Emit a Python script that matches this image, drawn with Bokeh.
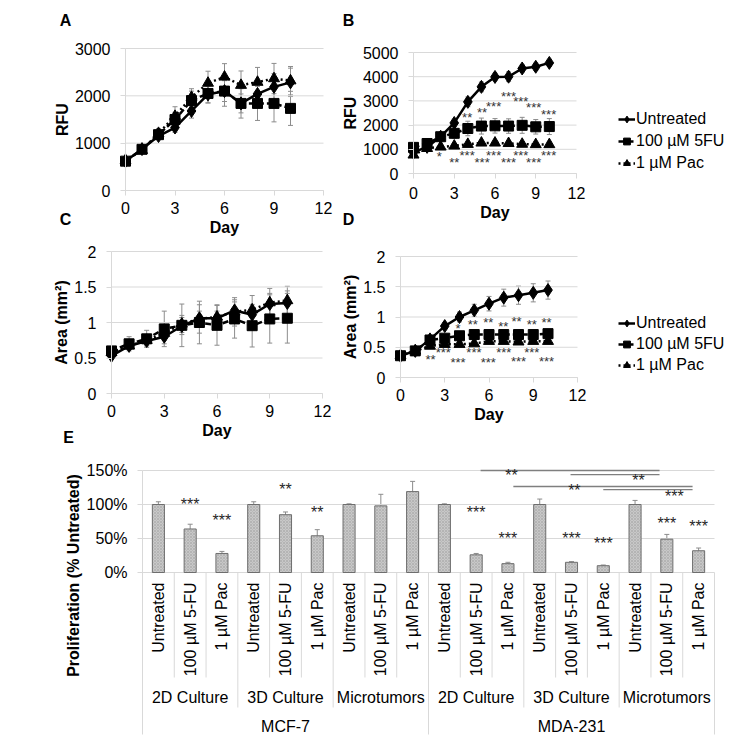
import math
from bokeh.plotting import figure
from bokeh.models import (ColumnDataSource, Whisker, TeeHead, Legend, LegendItem, Label,
                          FixedTicker, NumeralTickFormatter, PrintfTickFormatter,
                          LinearAxis, Range1d)
from bokeh.layouts import column, row
from bokeh.embed import file_html
from bokeh.resources import INLINE
from bokeh.core.properties import value

FONT = "Liberation Sans"
GRID = "#d9d9d9"
ERR = "#8c8c8c"
STAR = "#333333"

# ---------------- data ----------------
days = [0, 1, 2, 3, 4, 5, 6, 7, 8, 9, 10]
day_ticks = [0, 3, 6, 9, 12]
series = ["Untreated", "100 µM 5FU", "1 µM Pac"]

# A: MCF-7, RFU
a_untreated = [620, 875, 1150, 1330, 1680, 2030, 2100, 1840, 2040, 2190, 2285]
a_5fu = [620, 870, 1180, 1500, 1900, 2050, 2100, 1840, 1840, 1840, 1735]
a_pac = [640, 850, 1210, 1570, 1970, 2270, 2400, 2225, 2290, 2365, 2320]
a_untreated_err = [30, 50, 70, 100, 150, 180, 220, 200, 250, 280, 300]
a_5fu_err = [30, 60, 90, 150, 200, 200, 320, 310, 360, 390, 360]
a_pac_err = [30, 60, 100, 200, 180, 250, 280, 300, 310, 320, 300]
a_ticks = [0, 1000, 2000, 3000]

# B: MDA-231, RFU
b_untreated = [870, 1100, 1520, 2090, 2960, 3580, 3990, 4000, 4340, 4410, 4570]
b_5fu = [1080, 1240, 1520, 1660, 1860, 1960, 1970, 1960, 1990, 1930, 1940]
b_pac = [770, 1040, 1100, 1140, 1210, 1265, 1265, 1245, 1215, 1200, 1200]
b_untreated_err = [80, 100, 100, 150, 200, 200, 150, 200, 150, 150, 150]
b_5fu_err = [100, 100, 100, 200, 300, 330, 300, 300, 330, 300, 330]
b_pac_err = [100, 80, 80, 80, 100, 100, 100, 100, 100, 100, 100]
b_ticks = [0, 1000, 2000, 3000, 4000, 5000]
b_star_top_day = [3.95, 5.05, 5.9, 7.0, 7.9, 8.85, 9.95]
b_star_top_y = [2314, 2520, 2782, 3168, 2989, 2713, 2438]
b_star_top_txt = ["**", "**", "***", "***", "***", "***", "***"]
b_star_bot_day = [1.9, 3.0, 3.95, 5.05, 5.9, 7.0, 7.9, 8.85, 9.95]
b_star_bot_y = [689, 455, 730, 455, 730, 455, 730, 455, 730]
b_star_bot_txt = ["*", "**", "***", "***", "***", "***", "***", "***", "***"]

# C: MCF-7, area
c_untreated = [0.53, 0.67, 0.74, 0.80, 0.95, 1.06, 1.06, 1.17, 1.11, 1.26, 1.275]
c_5fu = [0.60, 0.70, 0.77, 0.91, 0.96, 1.00, 0.96, 1.05, 0.955, 1.05, 1.06]
c_pac = [0.58, 0.67, 0.75, 0.85, 0.98, 1.05, 1.08, 1.15, 1.18, 1.28, 1.31]
c_untreated_err = [0.03, 0.05, 0.06, 0.10, 0.12, 0.10, 0.10, 0.12, 0.12, 0.15, 0.17]
c_5fu_err = [0.05, 0.10, 0.12, 0.25, 0.30, 0.30, 0.28, 0.27, 0.30, 0.34, 0.35]
c_pac_err = [0.03, 0.05, 0.08, 0.10, 0.12, 0.20, 0.17, 0.20, 0.20, 0.20, 0.20]
area_ticks = [0, 0.5, 1, 1.5, 2]

# D: MDA-231, area
d_untreated = [0.36, 0.44, 0.63, 0.85, 1.00, 1.11, 1.22, 1.32, 1.36, 1.40, 1.445]
d_5fu = [0.36, 0.44, 0.62, 0.65, 0.69, 0.71, 0.71, 0.71, 0.71, 0.71, 0.725]
d_pac = [0.36, 0.44, 0.52, 0.55, 0.55, 0.56, 0.60, 0.60, 0.59, 0.60, 0.60]
d_untreated_err = [0.02, 0.03, 0.05, 0.06, 0.08, 0.10, 0.12, 0.14, 0.15, 0.15, 0.15]
d_5fu_err = [0.02, 0.03, 0.05, 0.05, 0.05, 0.05, 0.05, 0.05, 0.05, 0.05, 0.05]
d_pac_err = [0.02, 0.03, 0.04, 0.04, 0.04, 0.04, 0.04, 0.04, 0.04, 0.04, 0.04]
d_star_top_day = [3.9, 4.9, 5.95, 6.97, 7.87, 8.9, 9.9]
d_star_top_y = [0.81, 0.88, 0.91, 0.85, 0.93, 0.88, 0.91]
d_star_top_txt = ["*", "**", "**", "**", "**", "**", "**"]
d_star_bot_day = [2.04, 2.9, 3.9, 4.98, 5.95, 7.0, 8.0, 8.9, 9.9]
d_star_bot_y = [0.30, 0.41, 0.25, 0.41, 0.25, 0.41, 0.26, 0.41, 0.26]
d_star_bot_txt = ["**", "***", "***", "***", "***", "***", "***", "***", "***"]

# E: proliferation bars
cell_lines = ["MCF-7", "MDA-231"]
cultures = ["2D Culture", "3D Culture", "Microtumors"]
treatments = ["Untreated", "100 µM 5-FU", "1 µM Pac"]
e_values = [100, 64, 28, 100, 85, 54, 100, 98, 119,
            100, 26, 13, 100, 15, 10, 100, 49, 32]
e_errors = [4, 7, 3, 4, 4, 9, 1, 17, 15,
            1, 2, 2, 8, 1, 1, 6, 7, 4]
e_stars = ["", "***", "***", "", "**", "**", "", "", "",
           "", "***", "***", "", "***", "***", "", "***", "***"]
e_star_y = [0, 99.7, 76.7, 0, 121.6, 88, 0, 0, 0,
            0, 88, 50, 0, 50, 42, 0, 72, 68]
e_ticks = [0, 50, 100, 150]
# comparison brackets between bars (start bar, end bar, offsets), level, label
br_start = [("MDA-231", "2D Culture", "100 µM 5-FU"), ("MDA-231", "3D Culture", "100 µM 5-FU"),
            ("MDA-231", "2D Culture", "1 µM Pac"), ("MDA-231", "3D Culture", "1 µM Pac")]
br_start_off = [0.14, -0.03, 0.17, 0.0]
br_end = [("MDA-231", "Microtumors", "100 µM 5-FU"), ("MDA-231", "Microtumors", "100 µM 5-FU"),
          ("MDA-231", "Microtumors", "1 µM Pac"), ("MDA-231", "Microtumors", "1 µM Pac")]
br_end_off = [-0.23, -0.23, -0.19, -0.19]
br_level = [150, 144, 126.5, 122]
br_text = ["**", "**", "**", "***"]
br_text_at = [("MDA-231", "2D Culture", "1 µM Pac"), ("MDA-231", "Microtumors", "Untreated"),
              ("MDA-231", "3D Culture", "100 µM 5-FU"), ("MDA-231", "Microtumors", "100 µM 5-FU")]
br_text_off = [0.11, 0.11, 0.09, 0.24]
br_text_y = [142.6, 135.3, 120.6, 111.8]

MARKERS = ["diamond", "square", "triangle"]
SIZES = [13, 10, 11]
DASHES = ["solid", "6 3", "2 3"]


# ---------------- helpers ----------------
def make_fig(fig_x, fig_y, W, H, box, xdom, ydom):
    """Figure whose frame is the whole canvas; box = plot area in page pixels."""
    L, T, R, B = box
    sx = (R - L) / (xdom[1] - xdom[0])
    sy = (B - T) / (ydom[1] - ydom[0])
    xr = Range1d(xdom[0] - (L - fig_x) / sx, xdom[1] + (fig_x + W - R) / sx)
    yr = Range1d(ydom[0] - (fig_y + H - B) / sy, ydom[1] + (T - fig_y) / sy)
    p = figure(width=W, height=H, x_range=xr, y_range=yr, x_axis_type=None, y_axis_type=None,
               min_border=0, output_backend="svg", toolbar_location=None)
    p.outline_line_color = None
    p.background_fill_color = "white"
    p.border_fill_color = "white"

    def to_data(px, py):
        return xdom[0] + (px - L) / sx, ydom[0] + (B - py) / sy
    return p, to_data


def style_axis(ax):
    ax.axis_line_color = GRID
    ax.major_tick_line_color = GRID
    ax.major_tick_out = 5
    ax.major_tick_in = 0
    ax.minor_tick_line_color = None
    ax.major_label_text_font = FONT
    ax.major_label_text_font_size = "16px"
    ax.major_label_text_color = "black"
    ax.axis_label_text_font = FONT
    ax.axis_label_text_font_size = "16px"
    ax.axis_label_text_font_style = "bold"
    ax.axis_label_text_color = "black"


def line_panel(fig_x, fig_y, W, H, box, y_ticks, y_label, values, errors, y_format, xstand):
    p, to_data = make_fig(fig_x, fig_y, W, H, box, (0, 12), (y_ticks[0], y_ticks[-1]))
    # horizontal gridlines
    p.segment(x0=[0] * len(y_ticks), x1=[12] * len(y_ticks), y0=y_ticks, y1=y_ticks,
              line_color=GRID, line_width=1)
    xax = LinearAxis(fixed_location=0, bounds=(0, 12), ticker=FixedTicker(ticks=day_ticks),
                     axis_label="Day")
    style_axis(xax)
    xax.major_label_standoff = xstand
    xax.axis_label_standoff = 2
    yax = LinearAxis(fixed_location=0, bounds=(y_ticks[0], y_ticks[-1]),
                     ticker=FixedTicker(ticks=y_ticks),
                     formatter=NumeralTickFormatter(format=y_format), axis_label=y_label)
    style_axis(yax)
    yax.major_label_standoff = 10
    yax.axis_label_standoff = 1
    p.add_layout(xax, "below")
    p.add_layout(yax, "left")
    items = []
    for name, vals, errs, mk, sz, dash in zip(series, values, errors, MARKERS, SIZES, DASHES):
        src = ColumnDataSource(dict(day=days, v=vals,
                                    lo=[a - b for a, b in zip(vals, errs)],
                                    hi=[a + b for a, b in zip(vals, errs)]))
        lr = p.line("day", "v", source=src, line_color="black", line_width=2.5, line_dash=dash)
        mr = p.scatter("day", "v", source=src, marker=mk, size=sz,
                       fill_color="black", line_color="black")
        p.add_layout(Whisker(source=src, base="day", upper="hi", lower="lo",
                             line_color=ERR, line_width=1,
                             upper_head=TeeHead(size=5, line_color=ERR, line_width=1),
                             lower_head=TeeHead(size=5, line_color=ERR, line_width=1)))
        items.append(LegendItem(label=name, renderers=[lr, mr]))
    return p, to_data, items


def stars(p, xs, ys, texts, size):
    p.text(x=xs, y=ys, text=texts, text_font=value(FONT), text_font_size=size,
           text_color=STAR, text_align="center", text_baseline="middle")


def page_label(p, to_data, px, py, t, angle=0.0):
    x, y = to_data(px, py)
    p.add_layout(Label(x=x, y=y, text=t, angle=angle, text_font=FONT, text_font_size="16px",
                       text_font_style="bold", text_align="center",
                       text_baseline="middle", text_color="black"))


def add_legend(p, items, loc, spacing):
    lg = Legend(items=items, location=loc, border_line_color=None,
                background_fill_alpha=0, padding=0, margin=0, spacing=spacing,
                glyph_width=17, glyph_height=20, label_height=20, label_standoff=1,
                label_text_font=FONT, label_text_font_size="16px",
                label_text_color="black")
    p.add_layout(lg)


# ---------------- A ----------------
pA, tA, _ = line_panel(0, 0, 335, 240, (125, 48, 323, 190), a_ticks, "RFU",
                       [a_untreated, a_5fu, a_pac], [a_untreated_err, a_5fu_err, a_pac_err],
                       "0", 6)
page_label(pA, tA, 65, 20, "A")
page_label(pA, tA, 65, 219, "C")

# ---------------- B ----------------
pB, tB, itemsB = line_panel(335, 0, 410, 240, (413, 52, 576, 173), b_ticks, "RFU",
                            [b_untreated, b_5fu, b_pac], [b_untreated_err, b_5fu_err, b_pac_err],
                            "0", 8)
stars(pB, b_star_top_day, b_star_top_y, b_star_top_txt, "13px")
stars(pB, b_star_bot_day, b_star_bot_y, b_star_bot_txt, "13px")
add_legend(pB, itemsB, (283, 67), 2)
page_label(pB, tB, 348, 20, "B")
page_label(pB, tB, 348, 219, "D")

# ---------------- C ----------------
pC, tC, _ = line_panel(0, 240, 335, 205, (111, 251, 322, 393), area_ticks, "Area (mm²)",
                       [c_untreated, c_5fu, c_pac], [c_untreated_err, c_5fu_err, c_pac_err],
                       "0.[0]", 6)
page_label(pC, tC, 68, 437, "E")

# ---------------- D ----------------
pD, tD, itemsD = line_panel(335, 240, 410, 205, (400, 256, 577, 377), area_ticks, "Area (mm²)",
                            [d_untreated, d_5fu, d_pac], [d_untreated_err, d_5fu_err, d_pac_err],
                            "0.[0]", 6)
stars(pD, d_star_top_day, d_star_top_y, d_star_top_txt, "13px")
stars(pD, d_star_bot_day, d_star_bot_y, d_star_bot_txt, "13px")
add_legend(pD, itemsD, (283, 70), 1)

# ---------------- E ----------------
factors = [(c, k, t) for c in cell_lines for k in cultures for t in treatments]
pos = {f: i + 0.5 for i, f in enumerate(factors)}
nf = len(factors)
pE, tE = make_fig(0, 445, 745, 297, (142, 470, 714, 572), (0, nf), (0, 150))

pE.segment(x0=[0] * len(e_ticks), x1=[nf] * len(e_ticks), y0=e_ticks, y1=e_ticks,
           line_color=GRID, line_width=1)
y_bottom = tE(0, 734)[1]
yaxE = LinearAxis(fixed_location=0, bounds=(y_bottom, e_ticks[-1]), ticker=FixedTicker(ticks=e_ticks),
                  formatter=PrintfTickFormatter(format="%d%%"))
style_axis(yaxE)
yaxE.major_label_standoff = 10
pE.add_layout(yaxE, "left")

esrc = ColumnDataSource(dict(x=[pos[f] for f in factors], v=e_values,
                             lo=[a - b for a, b in zip(e_values, e_errors)],
                             hi=[a + b for a, b in zip(e_values, e_errors)]))
pE.vbar(x="x", top="v", width=0.38, source=esrc, fill_color="#c8c8c8",
        line_color="#6e6e6e", line_width=1, hatch_pattern="diagonal_cross",
        hatch_color="#a0a0a0", hatch_scale=3, hatch_weight=0.5)
pE.add_layout(Whisker(source=esrc, base="x", upper="hi", lower="lo",
                      line_color=ERR, line_width=1,
                      upper_head=TeeHead(size=5, line_color=ERR, line_width=1),
                      lower_head=TeeHead(size=5, line_color=ERR, line_width=1)))

sx = [pos[f] for f, s in zip(factors, e_stars) if s]
sy = [y for y, s in zip(e_star_y, e_stars) if s]
st = [s for s in e_stars if s]
pE.text(x=sx, y=sy, text=st, text_font=value(FONT), text_font_size="16px",
        text_color="#262626", text_align="center", text_baseline="middle")

# comparison brackets
pE.segment(x0=[pos[f] + o for f, o in zip(br_start, br_start_off)], y0=br_level,
           x1=[pos[f] + o for f, o in zip(br_end, br_end_off)], y1=br_level,
           line_color="#7f7f7f", line_width=1.3)
pE.text(x=[pos[f] + o for f, o in zip(br_text_at, br_text_off)], y=br_text_y, text=br_text,
        text_font=value(FONT), text_font_size="16px",
        text_color="#262626", text_align="center", text_baseline="middle")

# category labels (three levels)
y_inner = tE(0, 582)[1]
y_mid = tE(0, 697)[1]
y_top = tE(0, 726)[1]
pE.text(x=[pos[f] for f in factors], y=[y_inner] * nf, text=[f[2] for f in factors],
        angle=math.pi / 2, text_font=value(FONT), text_font_size="16px",
        text_color="black", text_align="right", text_baseline="middle")
mids = [(c, k) for c in cell_lines for k in cultures]
mid_x = [sum(pos[f] for f in factors if f[:2] == m) / len(treatments) for m in mids]
pE.text(x=mid_x, y=[y_mid] * len(mids), text=[m[1] for m in mids], text_font=value(FONT),
        text_font_size="16px", text_color="black", text_align="center", text_baseline="middle")
top_x = [sum(pos[f] for f in factors if f[0] == c) / (len(cultures) * len(treatments))
         for c in cell_lines]
pE.text(x=top_x, y=[y_top] * len(cell_lines), text=cell_lines, text_font=value(FONT),
        text_font_size="16px", text_color="black", text_align="center", text_baseline="middle")

sep_x, sep_end = [], []
end_inner = tE(0, 677)[1]
end_mid = tE(0, 707)[1]
for i in range(1, nf + 1):
    prev = factors[i - 1]
    sep_x.append(pos[prev] + 0.5)
    if i == nf or factors[i][0] != prev[0]:
        sep_end.append(y_bottom)
    elif factors[i][1] != prev[1]:
        sep_end.append(end_mid)
    else:
        sep_end.append(end_inner)
pE.segment(x0=sep_x, y0=[0] * len(sep_x), x1=sep_x, y1=sep_end, line_color=GRID, line_width=1)

page_label(pE, tE, 73, 575, "Proliferation (% Untreated)", angle=math.pi / 2)

layout = column(row(pA, pB), row(pC, pD), pE)
open("out.html", "w").write(file_html(layout, INLINE))
